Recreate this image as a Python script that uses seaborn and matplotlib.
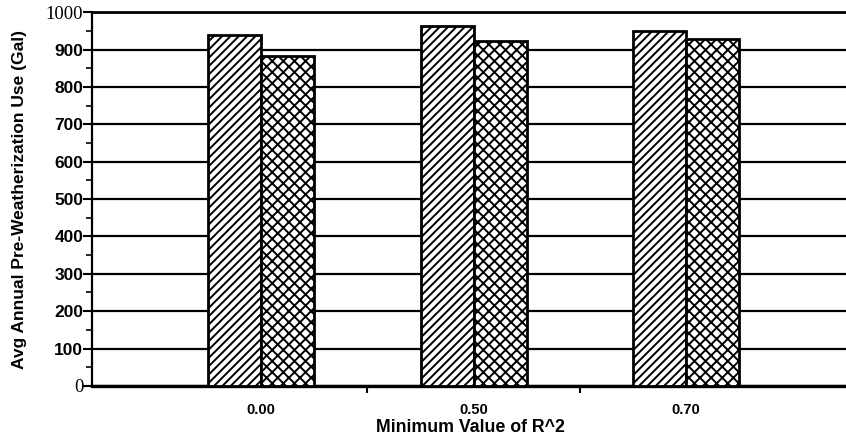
import pandas as pd
import matplotlib
matplotlib.use('Agg')
import matplotlib.pyplot as plt
import seaborn as sns

# values
r2_levels = ['0.00', '0.50', '0.70']
series_names = ['Series 1', 'Series 2']
series_1 = [940, 962, 950]
series_2 = [883, 922, 929]
y_ticks = [0, 100, 200, 300, 400, 500, 600, 700, 800, 900, 1000]

df = pd.DataFrame({
    'R2': r2_levels * 2,
    'Series': [series_names[0]] * 3 + [series_names[1]] * 3,
    'Use': series_1 + series_2,
})

sns.set_style('ticks')
plt.rcParams['font.family'] = ['Liberation Sans', 'DejaVu Sans']
plt.rcParams['text.color'] = 'black'
plt.rcParams['axes.labelcolor'] = 'black'
plt.rcParams['xtick.color'] = 'black'
plt.rcParams['ytick.color'] = 'black'
plt.rcParams['hatch.linewidth'] = 1.4

fig = plt.figure(figsize=(8.46, 4.37), dpi=100)
ax = fig.add_axes([0.109, 0.117, 0.893, 0.855])

sns.barplot(data=df, x='R2', y='Use', hue='Series', order=r2_levels,
            hue_order=series_names, width=0.5, dodge=True, legend=False,
            palette=['white', 'white'], saturation=1, ax=ax)

hatches = ['////', 'xxx']
for cont, h in zip(ax.containers, hatches):
    for bar in cont:
        bar.set_facecolor('white')
        bar.set_edgecolor('black')
        bar.set_linewidth(2.0)
        bar.set_hatch(h)
        bar.set_zorder(3)

ax.set_xlim(-0.795, 2.76)
ax.set_ylim(0, 1000)

# y axis: ticks, minor ticks, grid
ax.set_yticks(y_ticks)
ax.set_yticklabels([str(v) for v in y_ticks])
ax.set_yticks(range(50, 1000, 100), minor=True)
for lab in ax.get_yticklabels():
    if lab.get_text() in ('0', '1000'):
        lab.set_fontfamily(['Liberation Serif', 'DejaVu Serif'])
        lab.set_fontsize(13.5)
        lab.set_fontweight('normal')
    else:
        lab.set_fontsize(12.5)
        lab.set_fontweight('bold')
ax.tick_params(axis='y', which='major', length=6.5, width=1.5, pad=0, color='black')
ax.tick_params(axis='y', which='minor', length=4, width=1.2, color='black')
ax.grid(axis='y', color='black', linewidth=1.6)
ax.set_axisbelow(True)

# x axis: labels at category centres, tick marks between categories
ax.tick_params(axis='x', which='major', length=0, pad=12)
for lab in ax.get_xticklabels():
    lab.set_fontsize(10.5)
    lab.set_fontweight('bold')
ax.set_xticks([0.5, 1.5], minor=True)
ax.tick_params(axis='x', which='minor', length=5, width=1.5, color='black')

ax.set_xlabel('Minimum Value of R^2', fontsize=12.8, fontweight='bold', labelpad=2)
ax.set_ylabel('Avg Annual Pre-Weatherization Use (Gal)', fontsize=12.5, fontweight='bold')
ax.yaxis.set_label_coords(-0.086, 0.5)

for side in ['left', 'top', 'bottom']:
    ax.spines[side].set_color('black')
ax.spines['left'].set_linewidth(1.6)
ax.spines['top'].set_linewidth(2.0)
ax.spines['bottom'].set_linewidth(2.4)
ax.spines['right'].set_visible(False)

plt.savefig('out.png', dpi=100)
plt.close()
